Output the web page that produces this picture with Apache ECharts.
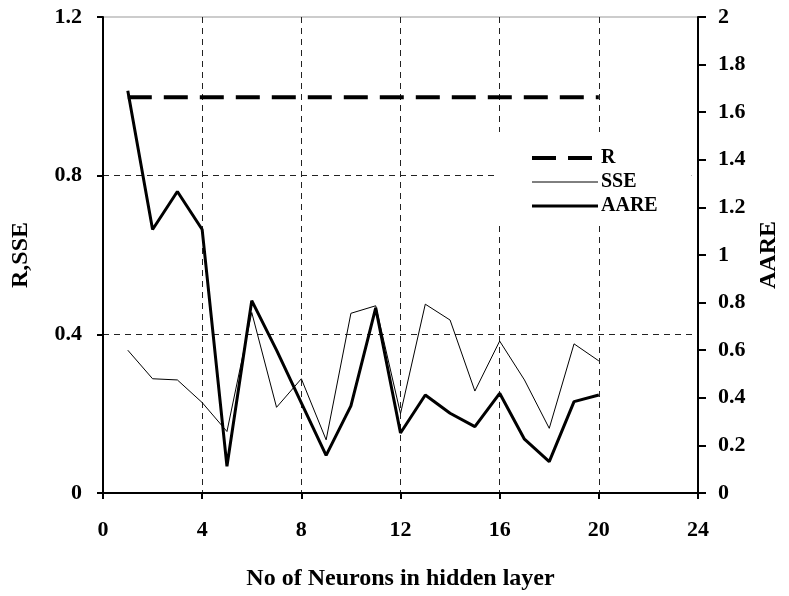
<!DOCTYPE html>
<html>
<head>
<meta charset="utf-8">
<script src="https://cdn.jsdelivr.net/npm/echarts@6/dist/echarts.min.js"></script>
<style>
html, body { margin: 0; padding: 0; background: #fff; }
#chart { width: 789px; height: 596px; }
</style>
</head>
<body>
<div id="chart"></div>
<script>
// hidden layer size vs. network performance
const neurons = [1, 2, 3, 4, 5, 6, 7, 8, 9, 10, 11, 12, 13, 14, 15, 16, 17, 18, 19, 20];
const rValues = [0.998, 0.998, 0.998, 0.998, 0.998, 0.998, 0.998, 0.998, 0.998, 0.998,
                 0.998, 0.998, 0.998, 0.998, 0.998, 0.998, 0.998, 0.998, 0.998, 0.998];
const sseValues = [0.36, 0.288, 0.285, 0.228, 0.155, 0.455, 0.216, 0.288, 0.134, 0.453,
                   0.472, 0.2, 0.476, 0.436, 0.257, 0.383, 0.285, 0.163, 0.376, 0.333];
const aareValues = [1.69, 1.107, 1.267, 1.107, 0.112, 0.808, 0.6, 0.379, 0.158, 0.366,
                    0.778, 0.252, 0.412, 0.335, 0.279, 0.419, 0.226, 0.132, 0.384, 0.412];

const pairs = (ys) => neurons.map((x, i) => [x, ys[i]]);

const font = 'Liberation Serif';
const labelStyle = { fontFamily: font, fontWeight: 'bold', fontSize: 22, color: '#000' };
const nameStyle = { fontFamily: font, fontWeight: 'bold', fontSize: 24, color: '#000' };
const gridDash = { color: '#222', width: 1, type: [6, 5] };

const rLine = { color: '#000', width: 4, type: [24, 12] };
const sseLine = { color: '#000', width: 1, type: 'solid' };
const aareLine = { color: '#000', width: 3, type: 'solid' };
// legend symbol is hidden, only the line sample shows
const noMarker = { color: 'transparent', borderColor: 'transparent', borderWidth: 0 };

const chart = echarts.init(document.getElementById('chart'));
chart.setOption({
  animation: false,
  backgroundColor: '#fff',
  grid: {
    left: 103, right: 88, top: 17, bottom: 102,
    show: true, borderColor: '#999', borderWidth: 1
  },
  legend: {
    orient: 'vertical',
    left: 497, top: 132,
    backgroundColor: '#fff',
    padding: [16, 34, 8, 33],
    itemWidth: 66, itemHeight: 14, itemGap: 4,
    itemStyle: noMarker,
    textStyle: { fontFamily: font, fontWeight: 'bold', fontSize: 20, color: '#000', lineHeight: 20, padding: [0, 0, 0, -2] },
    data: [
      { name: 'R', lineStyle: rLine, itemStyle: noMarker },
      { name: 'SSE', lineStyle: sseLine, itemStyle: noMarker },
      { name: 'AARE', lineStyle: aareLine, itemStyle: noMarker }
    ]
  },
  xAxis: {
    type: 'value',
    min: 0, max: 24, interval: 4,
    name: 'No of Neurons in hidden layer',
    nameLocation: 'middle',
    nameGap: 74,
    nameTextStyle: Object.assign({ verticalAlign: 'top' }, nameStyle),
    axisLine: { lineStyle: { color: '#000', width: 2 } },
    axisTick: { show: true, length: 6, lineStyle: { color: '#000', width: 2 } },
    axisLabel: Object.assign({ margin: 26 }, labelStyle),
    splitLine: { show: true, showMinLine: false, showMaxLine: false, lineStyle: gridDash }
  },
  yAxis: [
    {
      type: 'value',
      min: 0, max: 1.2, interval: 0.4,
      name: 'R,SSE',
      nameLocation: 'middle',
      nameGap: 70,
      nameTextStyle: nameStyle,
      axisLine: { show: true, lineStyle: { color: '#000', width: 2 } },
      axisTick: { show: true, length: 6, lineStyle: { color: '#000', width: 2 } },
      axisLabel: Object.assign({ margin: 21 }, labelStyle),
      splitLine: { show: true, showMinLine: false, showMaxLine: false, lineStyle: gridDash }
    },
    {
      type: 'value',
      position: 'right',
      min: 0, max: 2, interval: 0.2,
      name: 'AARE',
      nameLocation: 'middle',
      nameGap: 59,
      nameRotate: 90,
      nameTextStyle: nameStyle,
      axisLine: { show: true, lineStyle: { color: '#000', width: 2 } },
      axisTick: { show: true, length: 8, lineStyle: { color: '#000', width: 2 } },
      axisLabel: Object.assign({ margin: 20 }, labelStyle),
      splitLine: { show: false }
    }
  ],
  series: [
    {
      name: 'R', type: 'line', yAxisIndex: 0,
      data: pairs(rValues),
      symbol: 'none',
      lineStyle: rLine,
      itemStyle: { color: '#000' }
    },
    {
      name: 'SSE', type: 'line', yAxisIndex: 0,
      data: pairs(sseValues),
      symbol: 'none',
      lineStyle: sseLine,
      itemStyle: { color: '#000' }
    },
    {
      name: 'AARE', type: 'line', yAxisIndex: 1,
      data: pairs(aareValues),
      symbol: 'none',
      lineStyle: aareLine,
      itemStyle: { color: '#000' }
    }
  ]
});
</script>
</body>
</html>
